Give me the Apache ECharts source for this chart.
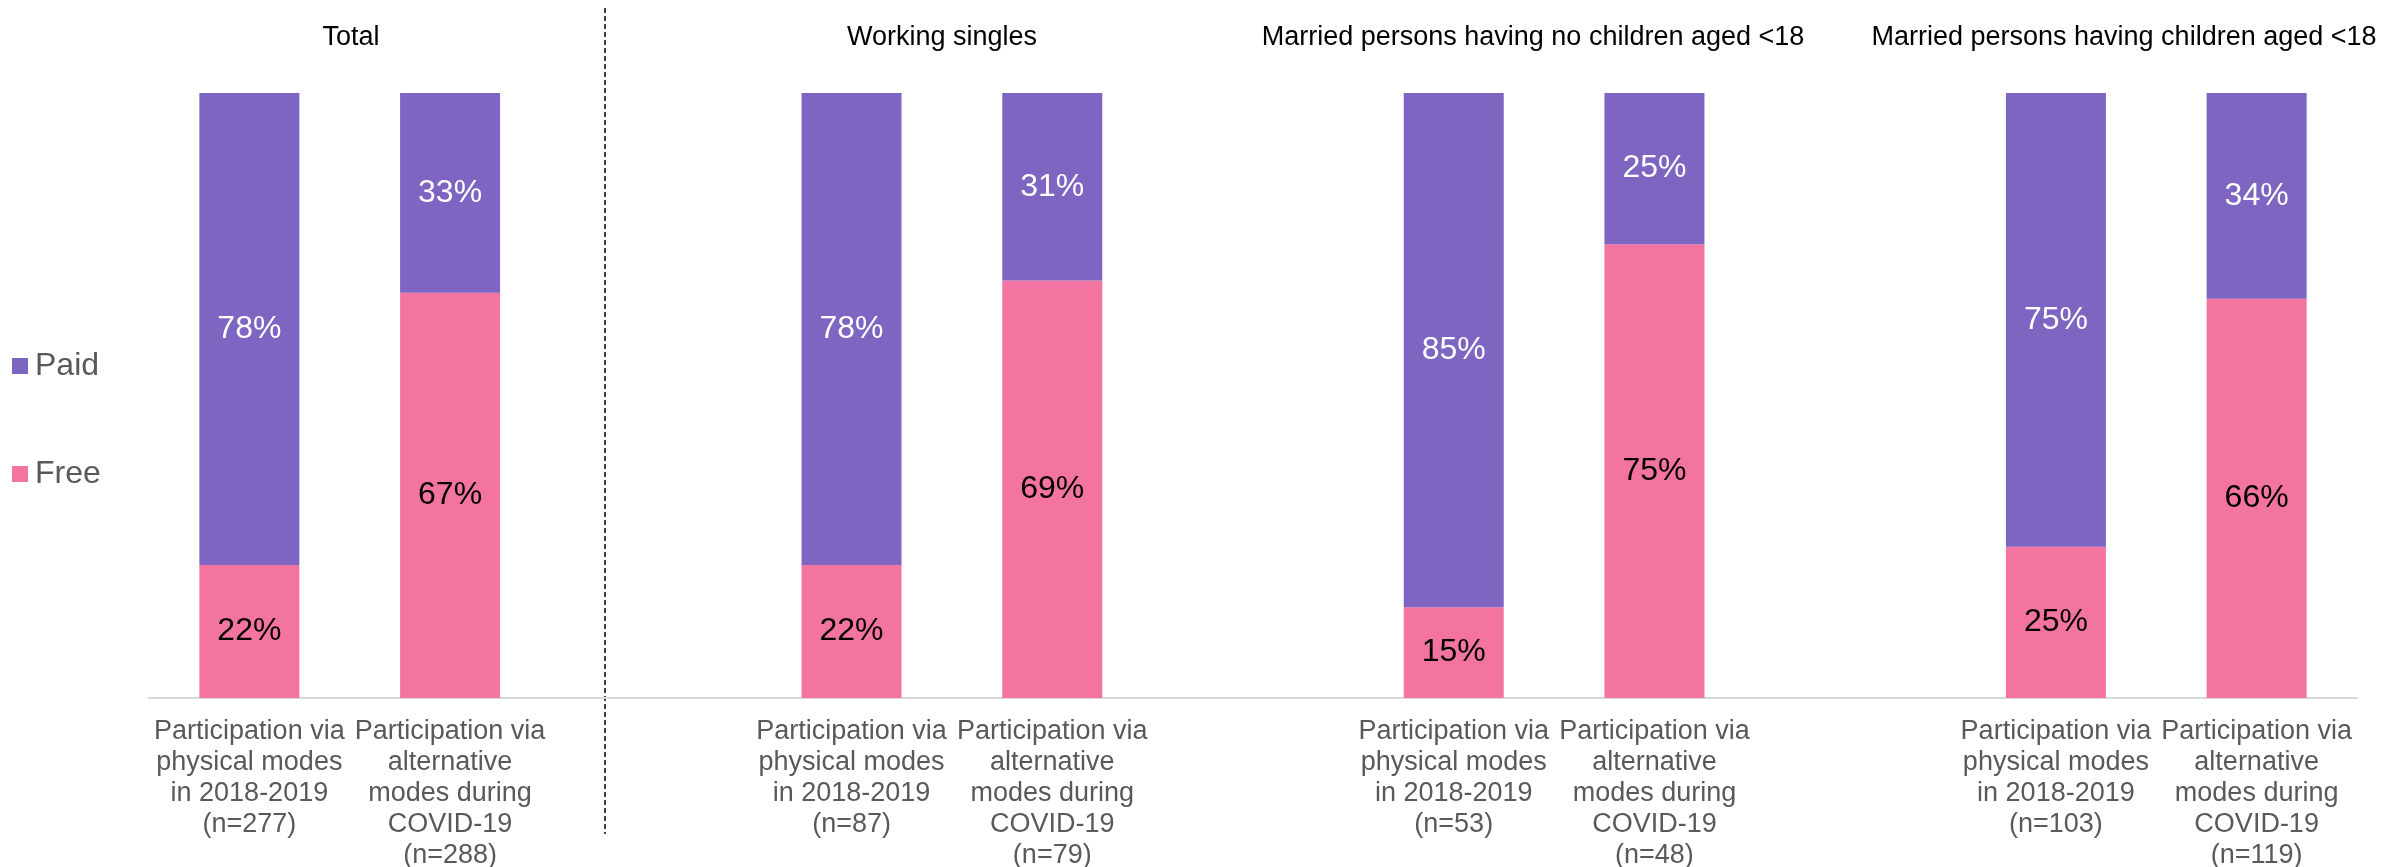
<!DOCTYPE html>
<html>
<head>
<meta charset="utf-8">
<title>Paid vs free participation</title>
<script src="https://cdn.jsdelivr.net/npm/echarts@6/dist/echarts.min.js"></script>
<style>
  html, body { margin: 0; padding: 0; background: #fff; }
  #chart { width: 2386px; height: 867px; }
</style>
</head>
<body>
<div id="chart"></div>
<script>
// group headings and sample sizes
const groupTitles = ['Total', 'Working singles', 'Married persons having no children aged <18', 'Married persons having children aged <18']
const physicalN = [277, 87, 53, 103]
const covidN = [288, 79, 48, 119]

// shares (%) per group
const paidPhysical = [78, 78, 85, 75]
const freePhysical = [22, 22, 15, 25]
const paidCovid = [33, 31, 25, 34]
const freeCovid = [67, 69, 75, 66]

const seriesNames = ['Paid', 'Free']

// build category slots: two bars per group, one empty slot between groups
const categories = []
const paidData = []
const freeData = []
groupTitles.forEach((g, i) => {
  categories.push('Participation via\nphysical modes\nin 2018-2019\n(n=' + physicalN[i] + ')')
  paidData.push(paidPhysical[i])
  freeData.push(freePhysical[i])
  categories.push('Participation via\nalternative\nmodes during\nCOVID-19\n(n=' + covidN[i] + ')')
  paidData.push(paidCovid[i])
  freeData.push(freeCovid[i])
  if (i < groupTitles.length - 1) {
    categories.push(' '.repeat(i + 1))
    paidData.push('-')
    freeData.push('-')
  }
})

const FONT = 'Arial, "Liberation Sans", sans-serif'
const titleX = [351, 942, 1533, 2124]

const chart = echarts.init(document.getElementById('chart'), null, { renderer: 'canvas' })

const option = {
  backgroundColor: '#fff',
  animation: false,
  textStyle: { fontFamily: FONT },
  legend: {
    orient: 'vertical',
    left: 12,
    top: 350,
    padding: 0,
    itemWidth: 16,
    itemHeight: 16,
    itemGap: 76,
    icon: 'rect',
    data: seriesNames,
    textStyle: { fontSize: 32, color: '#595959', fontFamily: FONT, padding: [0, 0, 0, 2] }
  },
  grid: {
    left: 149,
    right: 29,
    top: 93,
    bottom: 169,
    outerBoundsMode: 'none'
  },
  xAxis: {
    type: 'category',
    data: categories,
    axisTick: { show: false },
    axisLine: { lineStyle: { color: '#d9d9d9', width: 2 } },
    axisLabel: {
      interval: 0,
      margin: 18,
      fontSize: 27,
      lineHeight: 31,
      color: '#595959',
      fontFamily: FONT,
      align: 'center'
    }
  },
  yAxis: {
    type: 'value',
    min: 0,
    max: 100,
    show: false,
    splitLine: { show: false }
  },
  graphic: [
    {
      type: 'line',
      shape: { x1: 605, y1: 8, x2: 605, y2: 834 },
      style: { stroke: '#404040', lineWidth: 2, lineDash: [5, 3] },
      silent: true
    }
  ].concat(groupTitles.map((t, i) => ({
    type: 'text',
    x: titleX[i],
    y: 38,
    silent: true,
    style: {
      text: t,
      fill: '#000',
      font: '27px ' + FONT,
      align: 'center',
      verticalAlign: 'middle',
      textAlign: 'center',
      textVerticalAlign: 'middle'
    }
  }))),
  series: [
    {
      name: 'Free',
      type: 'bar',
      stack: 'share',
      barWidth: 100,
      data: freeData,
      itemStyle: { color: '#F373A1' },
      label: {
        show: true,
        position: 'inside',
        formatter: '{c}%',
        fontSize: 32,
        color: '#000',
        fontFamily: FONT
      }
    },
    {
      name: 'Paid',
      type: 'bar',
      stack: 'share',
      barWidth: 100,
      data: paidData,
      itemStyle: { color: '#7D65C1' },
      label: {
        show: true,
        position: 'inside',
        formatter: '{c}%',
        fontSize: 32,
        color: '#fff',
        fontFamily: FONT
      }
    }
  ]
}

chart.setOption(option)

window.addEventListener('resize', () => {
  chart.resize()
})
</script>
</body>
</html>
